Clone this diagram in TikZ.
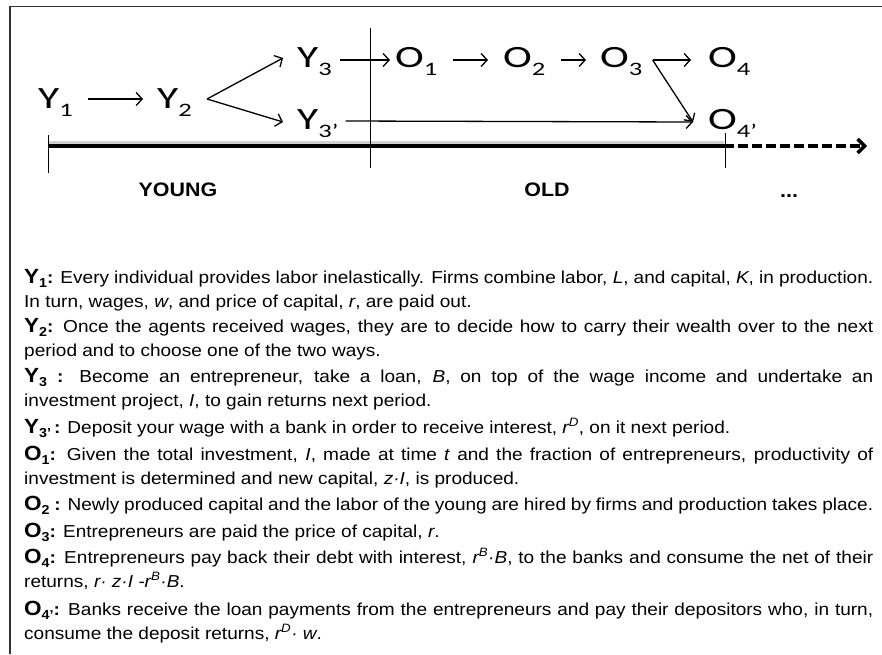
\documentclass[tikz,border=0pt]{standalone}
\usepackage{fontspec}
\setmainfont{Liberation Sans}[FakeStretch=1.1]
\newfontfamily\diagfont{Carlito}[FakeStretch=1.4]
\usetikzlibrary{arrows.meta}
\newcommand{\dlab}[2]{#1\raisebox{-8pt}{\fontsize{19}{19}\selectfont #2}}
\newcommand{\plab}[2]{{\bfseries\fontsize{20.5}{24}\selectfont #1\raisebox{-4pt}{\fontsize{13}{13}\selectfont #2}}}
\begin{document}
\begin{tikzpicture}[x=1pt,y=-1pt,
  lab/.style={font=\diagfont\fontsize{31}{31}\selectfont, anchor=base west, inner sep=0pt, text height=22pt, text depth=4pt},
  arr/.style={line width=1.3pt, -{Straight Barb[length=6pt,width=13pt]}},
  tick/.style={line width=0.9pt},
  era/.style={font=\bfseries\fontsize{19.5}{20}\selectfont, anchor=base, inner sep=0pt},
  para/.style={anchor=base west, inner sep=0pt, text width=849pt, align=justify, font=\fontsize{17.3}{24}\selectfont}]
\useasboundingbox (0,0) rectangle (882,654);
% frame
\draw[line width=1.5pt, black!80] (10,654) -- (10,6.5) -- (882,6.5);
% labels
\node[lab] (Y1) at (38,108) {\dlab{Y}{1}};
\node[lab] (Y2) at (157,108) {\dlab{Y}{2}};
\node[lab] (Y3) at (297,67) {\dlab{Y}{3}};
\node[lab] (Y3p) at (297,129) {\dlab{Y}{3’}};
\node[lab] (O1) at (395,67) {\dlab{O}{1}};
\node[lab] (O2) at (503,67) {\dlab{O}{2}};
\node[lab] (O3) at (600,67) {\dlab{O}{3}};
\node[lab] (O4) at (708,67) {\dlab{O}{4}};
\node[lab] (O4p) at (708,129) {\dlab{O}{4’}};
% arrows
\draw[arr] ([xshift=15pt]Y1.east) -- ([xshift=-14pt]Y2.west);
\coordinate (apex) at ([xshift=15pt]Y2.east);
\draw[arr] (apex) -- ([xshift=-14pt]Y3.west);
\draw[arr] (apex) -- ([xshift=-14pt,yshift=-2pt]Y3p.west);
\draw[arr] ([xshift=8pt,yshift=-2pt]Y3.east) -- ([xshift=-5pt,yshift=-2pt]O1.west);
\draw[arr] ([xshift=15pt,yshift=-2pt]O1.east) -- ([xshift=-15pt,yshift=-2pt]O2.west);
\draw[arr] ([xshift=15pt,yshift=-2pt]O2.east) -- ([xshift=-14pt,yshift=-2pt]O3.west);
\coordinate (o3out) at ([xshift=10pt,yshift=-2pt]O3.east);
\draw[arr] (o3out) -- ([xshift=-17pt,yshift=-2pt]O4.west);
\draw[arr] (o3out) -- ([xshift=-15pt,yshift=-2pt]O4p.west);
\draw[arr] ([xshift=7pt,yshift=-1pt]Y3p.east) -- ([xshift=-15pt,yshift=-2pt]O4p.west);
% timeline
\coordinate (t0) at (48,146);
\coordinate (t1) at (724,146);
\coordinate (t2) at (867,146);
\draw[line width=4.5pt, black!18] ([yshift=2.5pt]t0) -- ([yshift=2.5pt]t1);
\draw[line width=4.5pt] (t0) -- (t1);
\draw[line width=3.5pt, dash pattern=on 10pt off 4pt, -{Straight Barb[length=7pt,width=14pt]}] (t1) -- (t2);
\draw[tick] (48,135) -- (48,173);
\draw[tick] (370,28) -- (370,168);
\draw[tick] (725,133) -- (725,168);
\node[era] (young) at (178,196) {YOUNG};
\node[era] (old) at (547,196) {OLD};
\node[era] (dots) at (789,197) {...};
% text
\node[para] (p1) at (24,283) {\plab{Y}{1}\textbf{:} Every individual provides labor inelastically. Firms combine labor, \textit{L}, and capital, \textit{K}, in production.\linebreak In turn, wages, \textit{w}, and price of capital, \textit{r}, are paid out.};
\node[para] (p2) at (24,332) {\plab{Y}{2}\textbf{:} Once the agents received wages, they are to decide how to carry their wealth over to the next\linebreak period and to choose one of the two ways.};
\node[para] (p3) at (24,382) {\plab{Y}{3} \textbf{:} Become an entrepreneur, take a loan, \textit{B}, on top of the wage income and undertake an\linebreak investment project, \textit{I}, to gain returns next period.};
\node[para] (p4) at (24,433) {\plab{Y}{3’}\,\textbf{:} Deposit your wage with a bank in order to receive interest, \textit{r\textsuperscript{D}}, on it next period.};
\node[para] (p5) at (24,460) {\plab{O}{1}\textbf{:} Given the total investment, \textit{I}, made at time \textit{t} and the fraction of entrepreneurs, productivity of\linebreak investment is determined and new capital, \textit{z·I}, is produced.};
\node[para] (p6) at (24,510) {\plab{O}{2} \textbf{:} Newly produced capital and the labor of the young are hired by firms and production takes place.};
\node[para] (p7) at (24,537) {\plab{O}{3}\textbf{:} Entrepreneurs are paid the price of capital, \textit{r}.};
\node[para] (p8) at (24,563) {\plab{O}{4}\textbf{:} Entrepreneurs pay back their debt with interest, \textit{r\textsuperscript{B}·B}, to the banks and consume the net of their\linebreak returns, \textit{r· z·I -r\textsuperscript{B}·B}.};
\node[para] (p9) at (24,615) {\plab{O}{4’}\textbf{:} Banks receive the loan payments from the entrepreneurs and pay their depositors who, in turn,\linebreak consume the deposit returns, \textit{r\textsuperscript{D}· w}.};
\end{tikzpicture}
\end{document}
